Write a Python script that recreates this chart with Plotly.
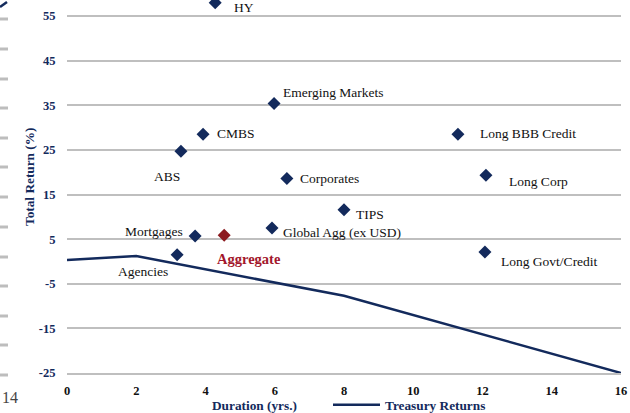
import plotly.graph_objects as go

# ---- data ----
sectors = ["HY", "Emerging Markets", "CMBS", "ABS", "Corporates", "TIPS",
           "Global Agg (ex USD)", "Mortgages", "Agencies", "Long BBB Credit",
           "Long Corp", "Long Govt/Credit"]
sector_duration = [4.28, 5.98, 3.93, 3.29, 6.35, 8.0, 5.92, 3.70, 3.18, 11.29, 12.10, 12.07]
sector_return = [58.0, 35.4, 28.5, 24.7, 18.6, 11.6, 7.5, 5.7, 1.5, 28.5, 19.3, 2.1]

agg_name = ["Aggregate"]
agg_duration = [4.54]
agg_return = [5.9]

tsy_duration = [0, 2, 8, 16]
tsy_return = [0.3, 1.2, -7.7, -25]

y_ticks = [-25, -15, -5, 5, 15, 25, 35, 45, 55]
x_ticks = [0, 2, 4, 6, 8, 10, 12, 14, 16]

# ---- styles ----
NAVY = "#132a5c"
RED = "#a3172c"
GRID = "#bfbfbf"
SERIF = "Liberation Serif"

# label placement: (xanchor, xshift px, yshift px)
label_pos = {
    "HY": ("left", 17, -5),
    "Emerging Markets": ("left", 7, 11),
    "CMBS": ("left", 12, 1),
    "ABS": ("right", 1, -25),
    "Corporates": ("left", 11, 0),
    "TIPS": ("left", 10, -5),
    "Global Agg (ex USD)": ("left", 9, -5),
    "Mortgages": ("right", -10, 5),
    "Agencies": ("right", -7, -17),
    "Long BBB Credit": ("left", 20, 1),
    "Long Corp": ("left", 21, -6),
    "Long Govt/Credit": ("left", 14, -9),
    "Aggregate": ("left", -9, -24),
}

W, H = 630, 413
ML, MR, MT, MB = 67, 9, 0, 40
PW, PH = W - ML - MR, H - MT - MB


def px_x(p):
    return (p - ML) / PW


def px_y(p):
    return (H - MB - p) / PH


fig = go.Figure()

fig.add_trace(go.Scatter(
    x=tsy_duration, y=tsy_return, mode="lines", name="Treasury Returns",
    line=dict(color=NAVY, width=2.5), showlegend=True, cliponaxis=False))

fig.add_trace(go.Scatter(
    x=sector_duration, y=sector_return, mode="markers", showlegend=False,
    marker=dict(symbol="diamond", size=10, color=NAVY), cliponaxis=False))

fig.add_trace(go.Scatter(
    x=agg_duration, y=agg_return, mode="markers", showlegend=False,
    marker=dict(symbol="diamond", size=10, color="#8c1a1f"), cliponaxis=False))

annotations = []
for n, xv, yv in zip(sectors, sector_duration, sector_return):
    anc, dx, dy = label_pos[n]
    annotations.append(dict(x=xv, y=yv, xref="x", yref="y", text=n, showarrow=False,
                            xanchor=anc, yanchor="middle", xshift=dx, yshift=dy,
                            font=dict(family=SERIF, size=13.5, color="#111111")))
for n, xv, yv in zip(agg_name, agg_duration, agg_return):
    anc, dx, dy = label_pos[n]
    annotations.append(dict(x=xv, y=yv, xref="x", yref="y", text="<b>" + n + "</b>",
                            showarrow=False, xanchor=anc, yanchor="middle",
                            xshift=dx, yshift=dy,
                            font=dict(family=SERIF, size=14.5, color=RED)))

# axis titles
annotations.append(dict(x=px_x(29), y=px_y(177), xref="paper", yref="paper",
                        text="<b>Total Return (%)</b>", textangle=-90, showarrow=False,
                        xanchor="center", yanchor="middle",
                        font=dict(family=SERIF, size=13.3, color=NAVY)))
annotations.append(dict(x=px_x(254), y=px_y(405), xref="paper", yref="paper",
                        text="<b>Duration (yrs.)</b>", showarrow=False,
                        xanchor="center", yanchor="middle",
                        font=dict(family=SERIF, size=13.3, color=NAVY)))
# stray page number at left edge
annotations.append(dict(x=px_x(0), y=px_y(397), xref="paper", yref="paper",
                        text="14", showarrow=False, xanchor="left", yanchor="middle",
                        font=dict(family=SERIF, size=16, color="#444444")))

shapes = []
for yp in [19, 49, 79, 108, 138, 167, 197, 227, 257, 286, 316, 345, 375]:
    shapes.append(dict(type="line", xref="paper", yref="paper",
                       x0=px_x(0), x1=px_x(8), y0=px_y(yp), y1=px_y(yp),
                       line=dict(color="#bdbdbd", width=3)))
shapes.append(dict(type="line", xref="paper", yref="paper",
                   x0=px_x(0), x1=px_x(7), y0=px_y(7), y1=px_y(2),
                   line=dict(color=NAVY, width=2.5)))

fig.update_layout(
    width=W, height=H,
    margin=dict(l=ML, r=MR, t=MT, b=MB, autoexpand=False),
    paper_bgcolor="white", plot_bgcolor="white",
    annotations=annotations, shapes=shapes,
    legend=dict(orientation="h", x=px_x(328), y=px_y(405), xanchor="left",
                yanchor="middle", bgcolor="rgba(0,0,0,0)",
                font=dict(family=SERIF, size=13.3, color=NAVY, weight="bold"),
                itemwidth=47),
    xaxis=dict(range=[0, 16], tickvals=x_ticks, ticktext=[str(v) for v in x_ticks],
               showgrid=False, zeroline=False,
               showline=True, linecolor=GRID, linewidth=2, automargin=False,
               ticks="outside", ticklen=5, tickcolor="rgba(0,0,0,0)",
               tickfont=dict(family=SERIF, size=12.5, color="#111111", weight="bold")),
    yaxis=dict(range=[-25, 58.6], tickvals=y_ticks, ticktext=[str(v) for v in y_ticks],
               showgrid=True, gridcolor=GRID,
               gridwidth=2, zeroline=False, showline=False, automargin=False,
               ticks="outside", ticklen=8, tickcolor="rgba(0,0,0,0)",
               tickfont=dict(family=SERIF, size=12.5, color=NAVY, weight="bold")),
)

fig.write_html("out.html", config={"displayModeBar": False},
               post_script="document.body.style.margin='0';document.body.style.padding='0';")
